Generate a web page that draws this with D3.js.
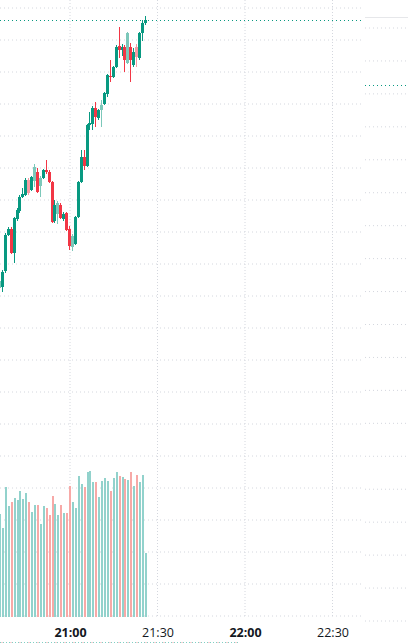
<!DOCTYPE html>
<html lang="en">
<head>
    <meta charset="utf-8">
    <script src="https://cdn.jsdelivr.net/npm/d3@7"></script>
    <style>
        body { margin: 0; background: #fff; }
    </style>
</head>
<body>
<div id="my_dataviz"></div>

<script>
    // one bar per minute, first bar at 20:36
    var startTime = "20:36";

    var open = [4002, 4002.25, 4006.25, 4015.25, 4016.75, 4010.75, 4019.25, 4021.25, 4024.75, 4025.25,
        4029, 4026.5, 4028.75, 4031, 4027.5, 4029.5, 4031.5, 4031, 4028.5, 4018.75,
        4020.5, 4022.75, 4019.25, 4020.75, 4016.75, 4012.25, 4013, 4019.75, 4028.5, 4034.75,
        4032.5, 4042.75, 4043, 4047, 4044.5, 4046.5, 4048, 4050.5, 4055, 4054.75,
        4057.25, 4062.5, 4061.5, 4062.25, 4058.25, 4062.25, 4057.75, 4062.25, 4059.5, 4065.75,
        4068.25];
    var high = [4004.25, 4006.5, 4015.75, 4017.25, 4017.25, 4019.75, 4022, 4025.25, 4027, 4029.5,
        4029.5, 4030, 4033, 4032, 4030, 4031.75, 4034, 4031.5, 4028.75, 4024,
        4023.75, 4023.25, 4021, 4021, 4017.5, 4015.5, 4020, 4028.75, 4036.5, 4036.5,
        4043, 4046, 4047.5, 4048.5, 4046.75, 4049, 4051, 4055.5, 4059, 4057.5,
        4062.75, 4067.25, 4063, 4062.75, 4066, 4063.25, 4062, 4063, 4066, 4069,
        4070];
    var low = [4001, 4001, 4005.75, 4015, 4010.5, 4008.25, 4018.75, 4020.75, 4024.5, 4025,
        4025.25, 4026.25, 4027.25, 4025.75, 4024.75, 4029.25, 4030.5, 4028.25, 4018.25, 4018.25,
        4018, 4019.25, 4018.75, 4016.25, 4011.5, 4011.25, 4012.75, 4019.5, 4028.25, 4031.5,
        4032.25, 4041.5, 4041.5, 4042.25, 4044, 4042.25, 4047.75, 4049.75, 4053.5, 4054.5,
        4057, 4059.5, 4060, 4056, 4058, 4053.5, 4057.25, 4057.25, 4059, 4063.75,
        4067.75];
    var close = [4003.75, 4006, 4015.25, 4016.75, 4010.75, 4019.5, 4021.5, 4024.75, 4025.5, 4029,
        4025.75, 4029.75, 4032.25, 4026, 4029.5, 4031.5, 4031, 4028.5, 4018.5, 4022.75,
        4023.25, 4019.5, 4020.5, 4016.5, 4012.5, 4015, 4019.75, 4028.5, 4034.75, 4032.5,
        4042.75, 4043.25, 4047, 4044.75, 4046.5, 4047.75, 4050.75, 4055.25, 4054.75, 4057.25,
        4062.25, 4061.5, 4062.25, 4059, 4065.75, 4059, 4061, 4059.75, 4065.75, 4068.25,
        4069];
    var volume = [1030, 890, 1300, 1110, 1150, 1190, 1170, 1260, 1180, 1240,
        1150, 1050, 1120, 1120, 930, 1110, 1090, 1020, 1210, 1130,
        1020, 1120, 1040, 1040, 1310, 1150, 1090, 1410, 1330, 1300,
        1450, 1460, 1350, 1350, 1200, 1360, 1390, 1360, 1260, 1390,
        1450, 1410, 1400, 1380, 1370, 1450, 1310, 1420, 1350, 1420,
        640];
    var timeTicks = ["21:00", "21:30", "22:00", "22:30"];

    // bars drawn in the paler shade
    var paleBars = [0, 10, 12, 14, 20, 25, 35, 44, 47];

    var width = 408,
        height = 643,
        paneRight = 362;

    var upColor = "#089981", downColor = "#f23645";
    var upPale = "#7cc8ba", downPale = "#f79aa3";
    var upVol = "#92d2cc", downVol = "#f7a9a7";
    var gridColor = "#d4d7de";

    var parse = d3.timeParse("%H:%M");
    var t0 = parse(startTime);

    var data = close.map(function (c, i) {
        return {
            i: i,
            time: d3.timeMinute.offset(t0, i),
            open: open[i], high: high[i], low: low[i], close: c,
            volume: volume[i]
        };
    });

    var svg = d3.select("#my_dataviz")
        .append("svg")
        .attr("width", width)
        .attr("height", height);

    // scales
    var x = d3.scaleTime()
        .domain([parse("21:00"), parse("22:30")])
        .range([70, 332.5]);

    var y = d3.scaleLinear()
        .domain([4000, 4072])
        .range([296, 8]);

    var yVol = d3.scaleLinear()
        .domain([0, 1000])
        .range([617, 517]);

    // second scale on the right strip
    var yRight = d3.scaleLinear()
        .domain([0, 18])
        .range([28, 621]);

    // horizontal grid (continues through the volume pane)
    svg.append("g")
        .selectAll("line")
        .data(d3.range(3920, 4073, 8))
        .enter()
        .append("line")
        .attr("x1", 0)
        .attr("x2", paneRight)
        .attr("y1", function (d) { return y(d); })
        .attr("y2", function (d) { return y(d); })
        .style("stroke", gridColor)
        .style("stroke-dasharray", "1,3");

    // vertical grid
    var tickDates = timeTicks.map(parse);
    svg.append("g")
        .selectAll("line")
        .data(tickDates)
        .enter()
        .append("line")
        .attr("x1", function (d) { return x(d); })
        .attr("x2", function (d) { return x(d); })
        .attr("y1", 0)
        .attr("y2", 616)
        .style("stroke", gridColor)
        .style("stroke-dasharray", "1,2");

    // right strip
    svg.append("line")
        .attr("x1", 365).attr("x2", width)
        .attr("y1", 17.5).attr("y2", 17.5)
        .style("stroke", "#e6e7ea");

    svg.append("g")
        .selectAll("line")
        .data(d3.range(0, 19))
        .enter()
        .append("line")
        .attr("x1", 365)
        .attr("x2", 406)
        .attr("y1", function (d) { return yRight(d); })
        .attr("y2", function (d) { return yRight(d); })
        .style("stroke", gridColor)
        .style("stroke-dasharray", "1,3");

    svg.append("line")
        .attr("x1", 365).attr("x2", 406)
        .attr("y1", 85.5).attr("y2", 85.5)
        .style("stroke", "#089981")
        .style("stroke-dasharray", "1,3");

    // volume bars
    svg.append("g")
        .selectAll("rect")
        .data(data)
        .enter()
        .append("rect")
        .attr("x", function (d) { return Math.round(x(d.time)) - 1; })
        .attr("width", 2)
        .attr("y", function (d) { return yVol(d.volume); })
        .attr("height", function (d) { return yVol(0) - yVol(d.volume); })
        .style("fill", function (d) { return d.close >= d.open ? upVol : downVol; });

    // candles
    function candleColor(d) {
        var pale = paleBars.indexOf(d.i) >= 0;
        if (d.close >= d.open) return pale ? upPale : upColor;
        return pale ? downPale : downColor;
    }

    var candle = svg.append("g")
        .selectAll("g")
        .data(data)
        .enter()
        .append("g");

    candle.append("rect")
        .attr("x", function (d) { return Math.round(x(d.time)) - 1; })
        .attr("width", 1)
        .attr("y", function (d) { return Math.round(y(d.high)); })
        .attr("height", function (d) { return Math.max(1, Math.round(y(d.low)) - Math.round(y(d.high))); })
        .style("fill", candleColor);

    candle.append("rect")
        .attr("x", function (d) { return Math.round(x(d.time)) - 2; })
        .attr("width", 3)
        .attr("y", function (d) { return Math.round(y(Math.max(d.open, d.close))); })
        .attr("height", function (d) {
            return Math.max(1, Math.round(y(Math.min(d.open, d.close))) - Math.round(y(Math.max(d.open, d.close))));
        })
        .style("fill", candleColor);

    // last price line
    var last = data[data.length - 1];
    svg.append("line")
        .attr("x1", 0)
        .attr("x2", paneRight)
        .attr("y1", Math.round(y(last.close)) + 0.5)
        .attr("y2", Math.round(y(last.close)) + 0.5)
        .style("stroke", "#089981")
        .style("stroke-dasharray", "1,3");

    // time axis
    var xAxis = svg.append("g")
        .attr("transform", "translate(0,625)")
        .call(d3.axisBottom(x)
            .tickValues(tickDates)
            .tickSize(0)
            .tickPadding(3)
            .tickFormat(d3.timeFormat("%H:%M")));

    xAxis.select(".domain").remove();
    xAxis.selectAll("text")
        .style("font-family", "'Open Sans', sans-serif")
        .style("font-size", "12.5px")
        .style("fill", "#131722")
        .style("font-weight", function (d) { return d.getMinutes() === 0 ? "bold" : "normal"; });

    // strip of the pane below, just visible at the bottom edge
    svg.append("line")
        .attr("x1", 0).attr("x2", 238)
        .attr("y1", 642.5).attr("y2", 642.5)
        .style("stroke", "#7fd0c4")
        .style("stroke-dasharray", "1,2");
    svg.append("line")
        .attr("x1", 1.5).attr("x2", 238)
        .attr("y1", 642.5).attr("y2", 642.5)
        .style("stroke", "#f4a3a8")
        .style("stroke-dasharray", "1,8");
</script>
</body>
</html>
